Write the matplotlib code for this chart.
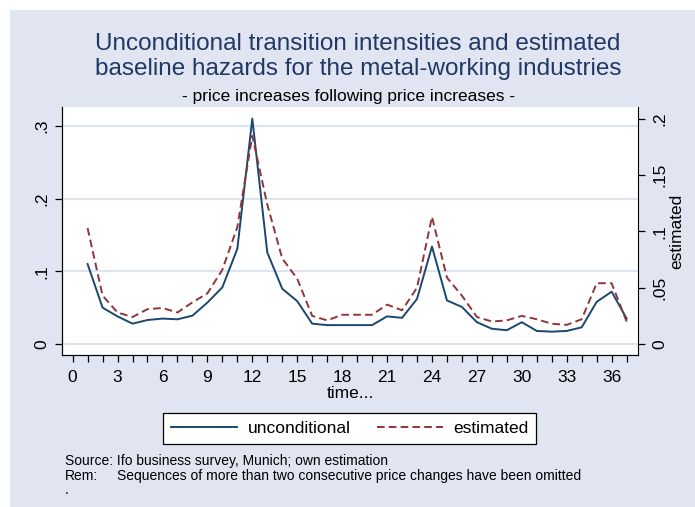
import matplotlib
matplotlib.use("Agg")
import matplotlib.pyplot as plt
from matplotlib.patches import Rectangle
from matplotlib.lines import Line2D

plt.rcParams["font.family"] = ["Liberation Sans", "DejaVu Sans"]
plt.rcParams["lines.scale_dashes"] = False

time = list(range(1, 38))
unconditional = [
    0.110, 0.050, 0.038, 0.028, 0.033, 0.035, 0.034, 0.039, 0.057, 0.078,
    0.131, 0.310, 0.126, 0.076, 0.059, 0.028, 0.026, 0.026, 0.026, 0.026,
    0.038, 0.036, 0.062, 0.134, 0.060, 0.051, 0.030, 0.021, 0.019, 0.030,
    0.018, 0.017, 0.018, 0.023, 0.058, 0.072, 0.035,
]
estimated = [
    0.103, 0.043, 0.028, 0.024, 0.031, 0.032, 0.028, 0.037, 0.045, 0.066,
    0.104, 0.185, 0.124, 0.076, 0.058, 0.025, 0.021, 0.026, 0.026, 0.026,
    0.035, 0.030, 0.050, 0.113, 0.059, 0.043, 0.024, 0.020, 0.021, 0.025,
    0.022, 0.018, 0.017, 0.022, 0.054, 0.054, 0.020,
]
left_ticks = [0, 0.1, 0.2, 0.3]
left_labels = ["0", ".1", ".2", ".3"]
right_ticks = [0, 0.05, 0.1, 0.15, 0.2]
right_labels = ["0", ".05", ".1", ".15", ".2"]
x_labels = list(range(0, 37, 3))

bg = "#e1e5f1"
grid_col = "#dde3ef"
navy = "#1a476f"
maroon = "#90353b"
W, H = 695, 507

fig = plt.figure(figsize=(6.95, 5.07), dpi=100, facecolor="white")
fig.patches.append(Rectangle((10 / W, 0), 1 - 10 / W, 1 - 10 / H, transform=fig.transFigure,
                             facecolor=bg, edgecolor="none", zorder=-10))

ax = fig.add_axes([61.7 / W, 1 - 355 / H, (638.3 - 61.7) / W, (355 - 107.3) / H])
ax.set_facecolor("white")
ax.plot(time, unconditional, color=navy, lw=1.4, zorder=3)
ax.set_xlim(-0.73, 37.78)
ax.set_ylim(-0.0151, 0.3256)
ax.set_yticks(left_ticks)
ax.set_yticklabels(left_labels)
ax.set_xticks(range(0, 38))
ax.set_xticklabels([str(v) if v in x_labels else "" for v in range(0, 38)])
for y in left_ticks:
    ax.axhline(y, color=grid_col, lw=1.5, zorder=1)
ax.spines["top"].set_visible(False)
ax.spines["right"].set_visible(False)
ax.tick_params(axis="both", length=5, width=0.9, labelsize=12.5)
ax.tick_params(axis="x", pad=5.5)
ax.tick_params(axis="y", labelrotation=90, pad=4)
for lab in ax.get_yticklabels():
    lab.set_va("center")

ax2 = ax.twinx()
ax2.plot(time, estimated, color=maroon, lw=1.4, dashes=(5.5, 3), zorder=3)
ax2.set_ylim(-0.00978, 0.2104)
ax2.set_yticks(right_ticks)
ax2.set_yticklabels(right_labels)
ax2.spines["top"].set_visible(False)
ax2.tick_params(axis="y", length=5, width=0.9, labelsize=12.5, labelrotation=90, pad=5)
for lab in ax2.get_yticklabels():
    lab.set_va("center")

fig.text(677 / W, 1 - 231 / H, "estimated", rotation=90, ha="center", va="center", fontsize=12.5)
fig.text(350 / W, 1 - 393 / H, "time...", ha="center", va="center", fontsize=12.5)

fig.text(358 / W, 1 - 50 / H, "Unconditional transition intensities and estimated",
         ha="center", va="baseline", fontsize=17.5, color="#1f3864")
fig.text(358 / W, 1 - 75 / H, "baseline hazards for the metal-working industries",
         ha="center", va="baseline", fontsize=17.5, color="#1f3864")
fig.text(348.5 / W, 1 - 100.7 / H, "- price increases following price increases -",
         ha="center", va="baseline", fontsize=12.5)

handles = [Line2D([], [], color=navy, lw=1.4),
           Line2D([], [], color=maroon, lw=1.4, dashes=(5.5, 3))]
leg = fig.legend(handles, ["unconditional", "estimated"], loc="center",
                 bbox_to_anchor=(349.7 / W, 1 - 428.5 / H), ncol=2, fontsize=12.5,
                 frameon=True, fancybox=False, edgecolor="black", framealpha=1,
                 handlelength=3.8, handletextpad=0.6, columnspacing=1.5, borderpad=0.45)
leg.get_frame().set_linewidth(0.9)

fig.text(65 / W, 1 - 465 / H, "Source: Ifo business survey, Munich; own estimation",
         ha="left", va="baseline", fontsize=10)
fig.text(65 / W, 1 - 480 / H, "Rem:", ha="left", va="baseline", fontsize=10)
fig.text(117 / W, 1 - 480 / H, "Sequences of more than two consecutive price changes have been omitted",
         ha="left", va="baseline", fontsize=10)
fig.text(65 / W, 1 - 494 / H, ".", ha="left", va="baseline", fontsize=10)

fig.savefig("out.png", dpi=100, facecolor="white")
